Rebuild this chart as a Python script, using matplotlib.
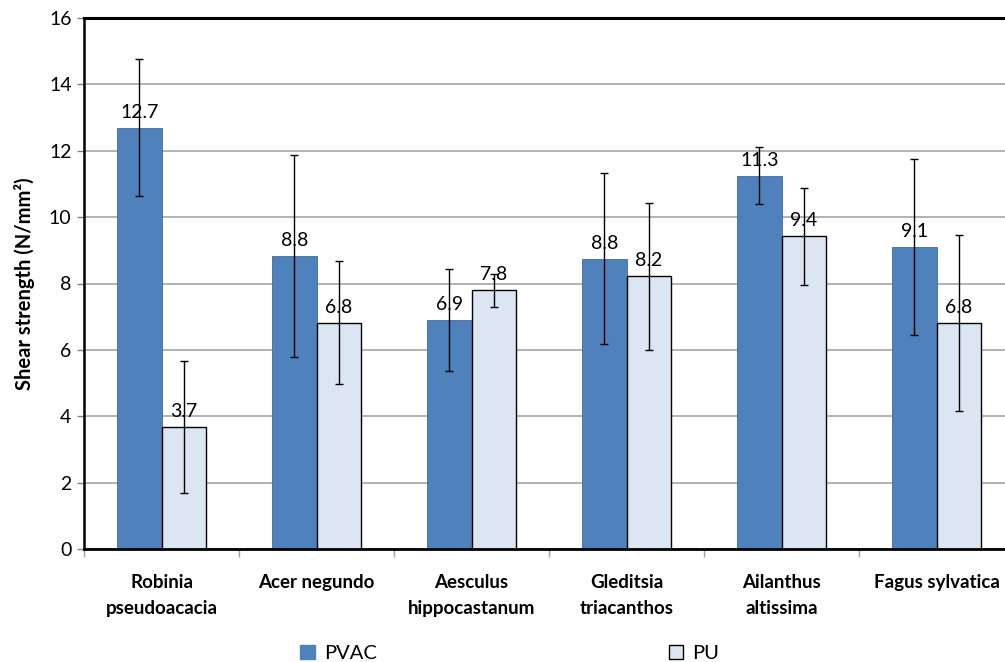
import numpy as np
import matplotlib
matplotlib.use("Agg")
import matplotlib.pyplot as plt
from matplotlib.patches import Patch

plt.rcParams["font.family"] = ["Lato", "DejaVu Sans"]

species = ["Robinia\npseudoacacia", "Acer negundo", "Aesculus\nhippocastanum",
           "Gleditsia\ntriacanthos", "Ailanthus\naltissima", "Fagus sylvatica"]
pvac = [12.7, 8.83, 6.9, 8.75, 11.25, 9.1]
pvac_err = [2.07, 3.03, 1.55, 2.58, 0.86, 2.65]
pvac_lbl = ["12.7", "8.8", "6.9", "8.8", "11.3", "9.1"]
pu = [3.67, 6.82, 7.8, 8.22, 9.42, 6.8]
pu_err = [1.98, 1.85, 0.5, 2.22, 1.46, 2.65]
pu_lbl = ["3.7", "6.8", "7.8", "8.2", "9.4", "6.8"]

fig = plt.figure(figsize=(10.05, 6.62), dpi=100)
ax = fig.add_axes([84 / 1005, 113 / 662, 930 / 1005, 531 / 662])

x = np.arange(len(species)) + 0.5
w = 0.285
ax.bar(x - w / 2, pvac, w, color="#4F81BD", edgecolor="#41699a", linewidth=0.6, zorder=2)
ax.bar(x + w / 2, pu, w, color="#DCE6F2", edgecolor="black", linewidth=1.0, zorder=2)
ax.errorbar(x - w / 2, pvac, yerr=pvac_err, fmt="none", ecolor="black",
            elinewidth=1, capsize=3, capthick=1, zorder=5)
ax.errorbar(x + w / 2, pu, yerr=pu_err, fmt="none", ecolor="black",
            elinewidth=1, capsize=3, capthick=1, zorder=5)

for xi, v, t in zip(x - w / 2, pvac, pvac_lbl):
    ax.text(xi, v + 0.3, t, ha="center", va="baseline", fontsize=14, zorder=4)
for xi, v, t in zip(x + w / 2, pu, pu_lbl):
    ax.text(xi, v + 0.3, t, ha="center", va="baseline", fontsize=14, zorder=4)

ax.set_xlim(0, 6)
ax.set_ylim(0, 16)
ax.set_yticks(np.arange(0, 17, 2))
ax.yaxis.grid(True, color="#a6a6a6", linewidth=1.2, zorder=0)
ax.set_axisbelow(True)
ax.tick_params(axis="y", labelsize=14, length=5, width=1, color="#808080", pad=4)

ax.set_xticks(np.arange(0, 7))
ax.set_xticklabels([])
ax.tick_params(axis="x", which="major", length=6, width=1, color="#a0a0a0")
ax.set_xticks(x, minor=True)
ax.set_xticklabels(species, minor=True, fontsize=13.5, fontweight="bold",
                   va="top", linespacing=1.65)
ax.tick_params(axis="x", which="minor", length=0, pad=18)

for s in ["top", "left", "bottom"]:
    ax.spines[s].set_color("black")
ax.spines["top"].set_linewidth(2.2)
ax.spines["left"].set_linewidth(1.8)
ax.spines["bottom"].set_linewidth(2.0)
ax.spines["right"].set_visible(False)

ax.set_ylabel("Shear strength (N/mm\u00b2)", fontsize=14.5, fontweight="bold", labelpad=10)

handles = [Patch(facecolor="#4F81BD", edgecolor="#4F81BD", label="PVAC"),
           Patch(facecolor="#DCE6F2", edgecolor="black", label="PU")]
fig.legend(handles=handles, loc="center", bbox_to_anchor=(0.507, 0.013), ncol=2,
           frameon=False, fontsize=14.5, handlelength=0.7, handleheight=0.7,
           handletextpad=0.45, columnspacing=14.5)

fig.savefig("out.png", dpi=100)
